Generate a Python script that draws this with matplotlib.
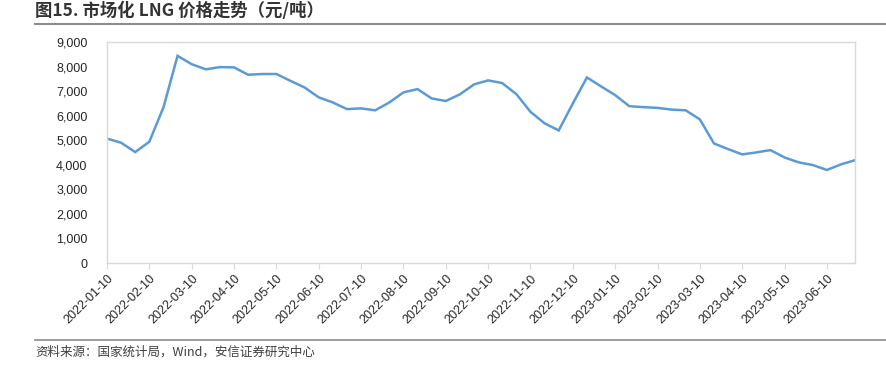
"""Market LNG price trend (yuan/ton), 10-day observations, Jan 2022 - Jun 2023."""

import matplotlib
matplotlib.use("Agg")
import matplotlib.pyplot as plt
from matplotlib.lines import Line2D

plt.rcParams["font.family"] = ["Liberation Sans", "Noto Sans CJK SC", "DejaVu Sans"]

# ---------------------------------------------------------------------------
# Data (one value per 10-day period)
# ---------------------------------------------------------------------------
TICK_LABELS = [
    "2022-01-10", "2022-02-10", "2022-03-10", "2022-04-10", "2022-05-10",
    "2022-06-10", "2022-07-10", "2022-08-10", "2022-09-10", "2022-10-10",
    "2022-11-10", "2022-12-10", "2023-01-10", "2023-02-10", "2023-03-10",
    "2023-04-10", "2023-05-10", "2023-06-10",
]
PERIODS_PER_MONTH = 3

LNG_PRICE = [
    5070, 4900, 4520, 4940, 6340, 8440, 8100, 7890, 7980, 7970,
    7670, 7700, 7700, 7420, 7150, 6750, 6540, 6270, 6300, 6220,
    6540, 6950, 7085, 6705, 6600, 6870, 7275, 7440, 7330, 6880,
    6160, 5690, 5400, 6500, 7560, 7195, 6840, 6390, 6350, 6320,
    6250, 6220, 5850, 4870, 4640, 4425, 4505, 4600, 4300, 4100,
    3990, 3790, 4020, 4190,
]

Y_TICKS = list(range(0, 9001, 1000))

TITLE = "图15. 市场化 LNG 价格走势（元/吨）"
SOURCE = "资料来源：国家统计局，Wind，安信证券研究中心"

LINE_COLOR = "#5B9BD5"
FRAME_COLOR = "#D9D9D9"
TEXT_COLOR = "#262626"
RULE_COLOR = "#8C8C8C"


def main() -> None:
    figure = plt.figure(figsize=(8.87, 3.66), dpi=100)
    axis = figure.add_axes([0.1206, 0.2814, 0.8435, 0.6036])

    positions = range(len(LNG_PRICE))
    axis.plot(positions, LNG_PRICE, color=LINE_COLOR, linewidth=1.8,
              solid_joinstyle="miter")

    axis.set_xlim(0, len(LNG_PRICE) - 1)
    axis.set_ylim(0, 9000)
    axis.set_yticks(Y_TICKS)
    axis.set_yticklabels([f"{value:,}" for value in Y_TICKS], fontsize=9,
                         color=TEXT_COLOR)
    axis.tick_params(axis="y", length=0, pad=14)

    tick_positions = [index * PERIODS_PER_MONTH for index in range(len(TICK_LABELS))]
    axis.set_xticks(tick_positions)
    axis.set_xticklabels(TICK_LABELS, rotation=45, ha="right", va="top",
                         rotation_mode="anchor", fontsize=9, color=TEXT_COLOR)
    axis.tick_params(axis="x", length=4, width=0.8, color=FRAME_COLOR, pad=3)

    for spine in axis.spines.values():
        spine.set_color(FRAME_COLOR)
        spine.set_linewidth(1.0)

    # Title with its rule underneath, source note with its rule above.
    figure.text(35 / 887, 1 - 11 / 366, TITLE, fontsize=12.5, weight="bold",
                color="#333333", va="center", ha="left",
                family=["Noto Sans CJK SC", "DejaVu Sans"])
    figure.add_artist(Line2D([35 / 887, 1], [1 - 23.5 / 366] * 2,
                             color=RULE_COLOR, linewidth=1.5))
    figure.add_artist(Line2D([35 / 887, 1], [1 - 340 / 366] * 2,
                             color=RULE_COLOR, linewidth=1.2))
    figure.text(35 / 887, 1 - 352 / 366, SOURCE, fontsize=9,
                color="#404040", va="center", ha="left", style="italic",
                family=["Noto Sans CJK SC", "DejaVu Sans"])

    figure.savefig("out.png", dpi=100, facecolor="white")
    plt.close(figure)


if __name__ == "__main__":
    main()
